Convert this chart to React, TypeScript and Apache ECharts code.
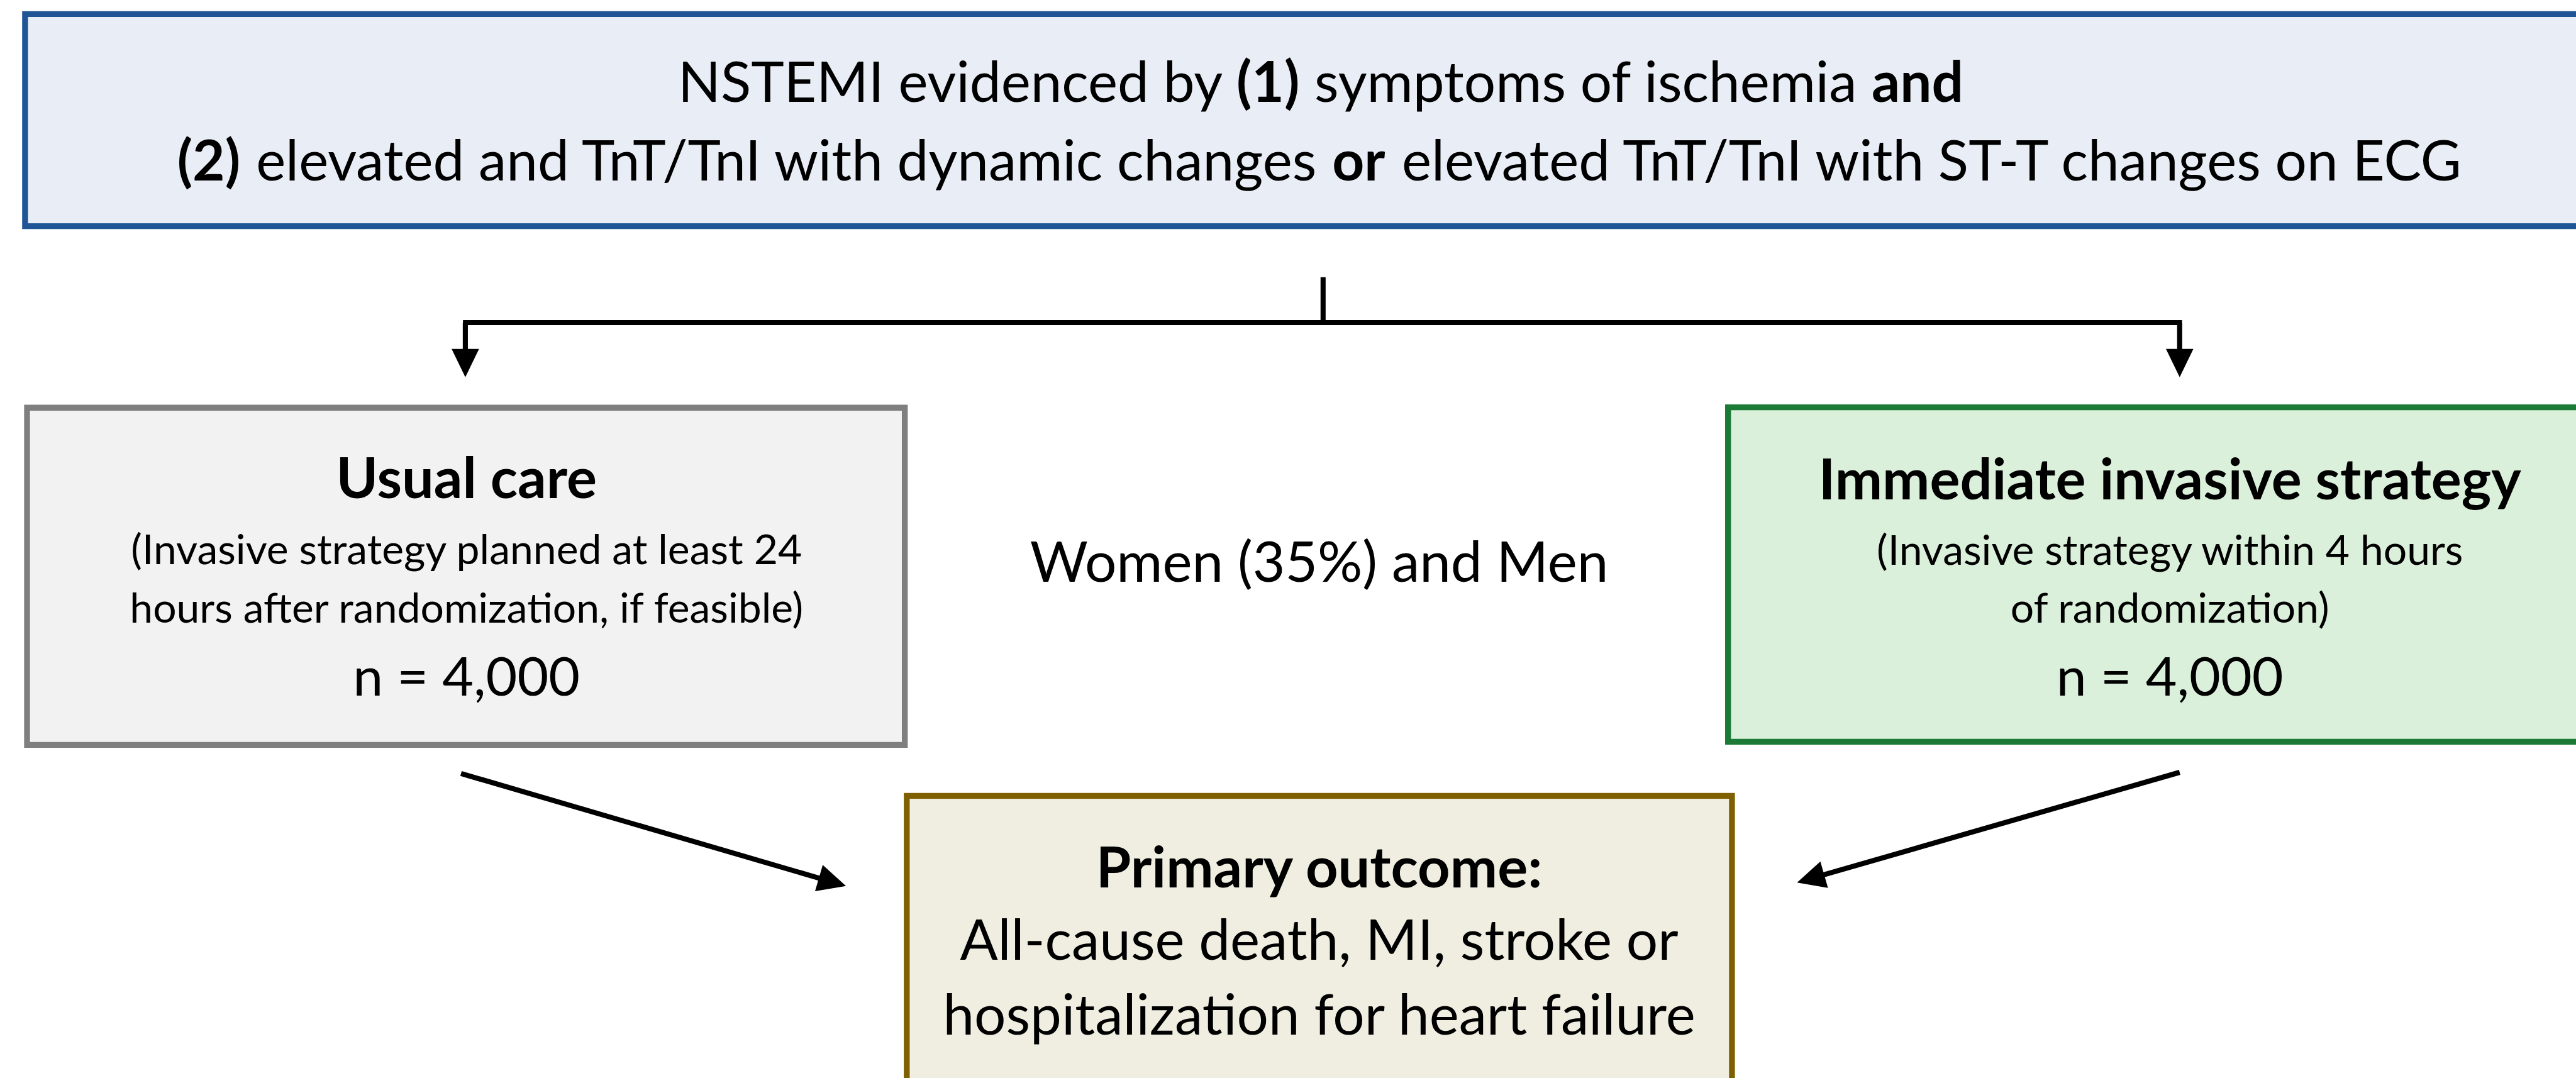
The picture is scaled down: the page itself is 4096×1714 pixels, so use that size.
import React, { useEffect, useRef } from "react";
import * as echarts from "echarts";

// ---- content (texts of the flowchart) ----
const headerLine1 = [
  { t: "NSTEMI evidenced by ", b: false },
  { t: "(1)", b: true },
  { t: " symptoms of ischemia ", b: false },
  { t: "and", b: true },
];
const headerLine2 = [
  { t: "(2)", b: true },
  { t: " elevated and TnT/TnI with dynamic changes ", b: false },
  { t: "or", b: true },
  { t: " elevated TnT/TnI with ST-T changes on ECG", b: false },
];
const usualTitle = "Usual care";
const usualDetail = ["(Invasive strategy planned at least 24", "hours after randomization, if feasible)"];
const usualN = "n = 4,000";
const invasiveTitle = "Immediate invasive strategy";
const invasiveDetail = ["(Invasive strategy within 4 hours", "of randomization)"];
const invasiveN = "n = 4,000";
const populationText = "Women (35%) and Men";
const outcomeTitle = "Primary outcome:";
const outcomeDetail = ["All-cause death, MI, stroke or", "hospitalization for heart failure"];

// ---- layout (reference pixel space, scaled to window) ----
const W = 4096;
const H = 1714;
const S = W / 6571;
const p = (v: number) => v * S;

const FONT = "Lato, 'Open Sans', sans-serif";
const F_MAIN = 89;
const F_TITLE = 90;
const F_DETAIL = 66;
const F_N = 86;

function richLine(parts: { t: string; b: boolean }[]) {
  return parts.map((x) => `{${x.b ? "b" : "r"}|${x.t}}`).join("");
}

function text(str: string, cx: number, cy: number, size: number, bold = false): any {
  return {
    type: "text",
    x: p(cx),
    y: p(cy),
    style: {
      text: str,
      fontSize: size,
      fontFamily: FONT,
      fontWeight: bold ? "bold" : "normal",
      fill: "#000",
      align: "center",
      verticalAlign: "middle",
    },
  };
}

function richText(parts: { t: string; b: boolean }[], cx: number, cy: number, size: number): any {
  return {
    type: "text",
    x: p(cx),
    y: p(cy),
    style: {
      text: richLine(parts),
      align: "center",
      verticalAlign: "middle",
      fill: "#000",
      rich: {
        r: { fontSize: size, fontFamily: FONT, fontWeight: "normal", fill: "#000" },
        b: { fontSize: size, fontFamily: FONT, fontWeight: "bold", fill: "#000" },
      },
    },
  };
}

function box(x1: number, y1: number, x2: number, y2: number, fill: string, stroke: string): any {
  return {
    type: "rect",
    shape: { x: p(x1), y: p(y1), width: p(x2 - x1), height: p(y2 - y1) },
    style: { fill, stroke, lineWidth: p(15) },
  };
}

function seg(x1: number, y1: number, x2: number, y2: number): any {
  return {
    type: "line",
    shape: { x1: p(x1), y1: p(y1), x2: p(x2), y2: p(y2) },
    style: { stroke: "#000", lineWidth: p(13), lineCap: "butt" },
  };
}

// arrow from (x1,y1) with tip at (x2,y2)
function arrow(x1: number, y1: number, x2: number, y2: number): any[] {
  const L = 72;
  const HW = 35;
  const dx = x2 - x1;
  const dy = y2 - y1;
  const len = Math.sqrt(dx * dx + dy * dy);
  const ux = dx / len;
  const uy = dy / len;
  const bx = x2 - ux * L;
  const by = y2 - uy * L;
  const nx = -uy;
  const ny = ux;
  return [
    seg(x1, y1, bx + ux * 4, by + uy * 4),
    {
      type: "polygon",
      shape: {
        points: [
          [p(x2), p(y2)],
          [p(bx + nx * HW), p(by + ny * HW)],
          [p(bx - nx * HW), p(by - ny * HW)],
        ],
      },
      style: { fill: "#000" },
    },
  ];
}

export default function App() {
  const ref = useRef<HTMLDivElement>(null);
  useEffect(() => {
    document.body.style.margin = "0";
    const chart = echarts.init(ref.current!, null, { renderer: "svg", width: W, height: H });
    const elements: any[] = [
      // top box
      box(64, 36, 6700, 577, "#e9eef6", "#1f5597"),
      richText(headerLine1, 3368, 205, F_MAIN),
      richText(headerLine2, 3368, 405, F_MAIN),
      // connectors
      seg(3375, 707, 3375, 823),
      seg(1181, 823, 5566, 823),
      ...arrow(1187, 823, 1187, 962),
      ...arrow(5560, 823, 5560, 962),
      // usual care
      box(69, 1040, 2308, 1900, "#f2f2f2", "#7f7f7f"),
      text(usualTitle, 1190, 1215, F_TITLE, true),
      text(usualDetail[0], 1190, 1398, F_DETAIL),
      text(usualDetail[1], 1190, 1548, F_DETAIL),
      text(usualN, 1190, 1720, F_N),
      // immediate invasive
      box(4408, 1039, 6700, 1892, "#daf0da", "#1a7a36"),
      text(invasiveTitle, 5535, 1218, F_TITLE, true),
      text(invasiveDetail[0], 5535, 1400, F_DETAIL),
      text(invasiveDetail[1], 5535, 1548, F_DETAIL),
      text(invasiveN, 5535, 1720, F_N),
      // population
      text(populationText, 3365, 1428, F_MAIN),
      // outcome
      box(2313, 2030, 4418, 2820, "#efeee0", "#7f6000"),
      text(outcomeTitle, 3365, 2208, F_TITLE, true),
      text(outcomeDetail[0], 3365, 2392, F_MAIN),
      text(outcomeDetail[1], 3365, 2583, F_MAIN),
      // diagonal arrows
      ...arrow(1176, 1973, 2158, 2260),
      ...arrow(5560, 1970, 4584, 2251),
    ];
    chart.setOption({
      animation: false,
      backgroundColor: "#ffffff",
      graphic: { elements },
    });
    return () => chart.dispose();
  }, []);
  return <div ref={ref} style={{ position: "fixed", left: 0, top: 0, width: W, height: H }} />;
}
